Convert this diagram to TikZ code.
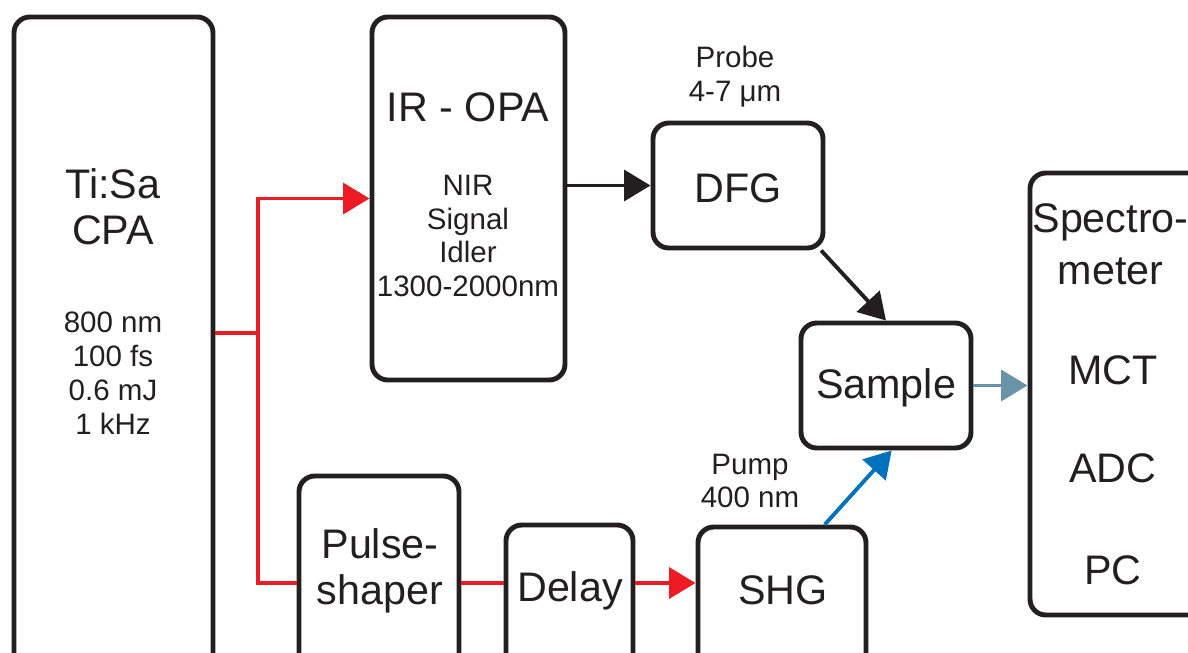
\documentclass[tikz,border=0pt]{standalone}
\usepackage{fontspec}
\setmainfont{Liberation Sans}
\usepackage{tikz}
\usetikzlibrary{arrows.meta}

\definecolor{ink}{HTML}{231F20}
\definecolor{beamred}{HTML}{ED1C24}
\definecolor{beamblue}{HTML}{0072BC}
\definecolor{beamgrey}{HTML}{6A93A7}

\tikzset{
	blok/.style={draw=ink, line width=2.8pt, rounded corners=9pt, inner sep=0pt},
	big/.style={font=\fontsize{23.5}{26}\selectfont, align=center, text=ink, inner sep=0pt},
	small/.style={font=\fontsize{16.8}{19.3}\selectfont, align=center, text=ink, inner sep=0pt},
	beam/.style={line width=2.2pt},
	tip/.style={-{Triangle[length=15pt, width=17.5pt]}}
}

\begin{document}
\begin{tikzpicture}[x=0.02cm, y=-0.02cm]
		\useasboundingbox (0,0) rectangle (1188,653);
		%Bokser
		\node[blok, minimum width=199*0.02cm, minimum height=673*0.02cm] (tisa) at (113.5,353.5) {};
		\node[blok, minimum width=193*0.02cm, minimum height=363*0.02cm] (opa) at (468.5,198.5) {};
		\node[blok, minimum width=170*0.02cm, minimum height=125*0.02cm] (dfg) at (738,185.5) {};
		\node[blok, minimum width=170*0.02cm, minimum height=125*0.02cm] (sample) at (886,385.5) {};
		\node[blok, minimum width=180*0.02cm, minimum height=442*0.02cm] (spec) at (1120,394) {};
		\node[blok, minimum width=160*0.02cm, minimum height=214*0.02cm] (shaper) at (379,583) {};
		\node[blok, minimum width=127*0.02cm, minimum height=165*0.02cm] (delay) at (569.5,607.5) {};
		\node[blok, minimum width=168*0.02cm, minimum height=163*0.02cm] (shg) at (782,608.5) {};
		%Tekst
		\node[big] (tisaname) at (113,207) {Ti:Sa\\CPA};
		\node[small] (tisadata) at (113,373) {800 nm\\100 fs\\0.6 mJ\\1 kHz};
		\node[big] (opaname) at (468,107) {IR - OPA};
		\node[small] (opadata) at (468,236) {NIR\\Signal\\Idler\\1300-2000nm};
		\node[big] (dfgname) at (738,188) {DFG};
		\node[big] (samplename) at (886,388) {Sample};
		\node[small] (probe) at (735,77) {Probe\\4-7 μm};
		\node[small] (pump) at (750,481) {Pump\\400 nm};
		\node[big] (shapername) at (380,571) {Pulse-\\shaper};
		\node[big] (delayname) at (570,591) {Delay};
		\node[big] (shgname) at (783,590) {SHG};
		\node[big, font=\fontsize{23.5}{29.5}\selectfont] (specname) at (1110.5,244) {Spectro-\\meter};
		\node[big] (mct) at (1113,370) {MCT};
		\node[big] (adc) at (1113,468) {ADC};
		\node[big] (pc) at (1113,570) {PC};
		%Stråler
		\coordinate (split) at (258,333);
		\draw[beam, beamred] (tisa.east |- split) -- (split);
		\draw[beam, beamred, tip] (split) |- (opa.west);
		\draw[beam, beamred] (split) |- (shaper.west);
		\draw[beam, beamred] (shaper.east) -- (shaper.east -| delay.west);
		\draw[beam, beamred, tip] (delay.east |- shaper.east) -- (shg.west |- shaper.east);
		\draw[beam, ink, tip] (opa.east |- dfg.west) -- (dfg.west);
		\draw[beam, ink, tip] (dfg.-38) -- (sample.north);
		\draw[beam, beamblue, tip] (shg.63) -- (sample.-85);
		\draw[beam, beamgrey, tip] (sample.east) -- (sample.east -| spec.west);
	\end{tikzpicture}
\end{document}
